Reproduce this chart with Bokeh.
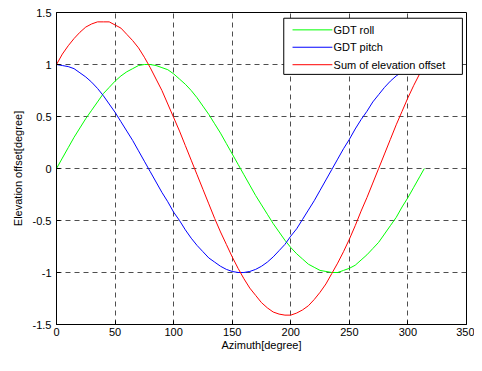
from bokeh.plotting import figure
from bokeh.embed import file_html
from bokeh.resources import INLINE
from bokeh.models import FixedTicker, Range1d
from bokeh.core.properties import value

azimuth = [0, 5, 10, 15, 20, 25, 30, 35, 40, 45, 50, 55, 60, 65, 70, 75, 80, 85, 90, 95,
           100, 105, 110, 115, 120, 125, 130, 135, 140, 145, 150, 155, 160, 165, 170, 175,
           180, 185, 190, 195, 200, 205, 210, 215, 220, 225, 230, 235, 240, 245, 250, 255,
           260, 265, 270, 275, 280, 285, 290, 295, 300, 305, 310, 314]
gdt_roll = [0.00, 0.10, 0.20, 0.30, 0.39, 0.48, 0.56, 0.64, 0.72, 0.78, 0.84, 0.89, 0.93,
            0.96, 0.99, 1.00, 1.00, 0.99, 0.97, 0.95, 0.91, 0.86, 0.81, 0.75, 0.68, 0.60,
            0.52, 0.43, 0.34, 0.24, 0.14, 0.04, -0.06, -0.16, -0.26, -0.35, -0.44, -0.53,
            -0.61, -0.69, -0.76, -0.82, -0.87, -0.92, -0.95, -0.98, -0.99, -1.00, -1.00,
            -0.98, -0.96, -0.93, -0.88, -0.83, -0.77, -0.71, -0.63, -0.55, -0.47, -0.37,
            -0.28, -0.18, -0.08, 0.00]
gdt_pitch = [1.00, 0.99, 0.98, 0.96, 0.92, 0.88, 0.83, 0.77, 0.70, 0.62, 0.54, 0.45, 0.36,
             0.27, 0.17, 0.07, -0.03, -0.13, -0.23, -0.32, -0.42, -0.50, -0.59, -0.67, -0.74,
             -0.80, -0.86, -0.90, -0.94, -0.97, -0.99, -1.00, -1.00, -0.99, -0.97, -0.94,
             -0.90, -0.85, -0.79, -0.73, -0.65, -0.58, -0.49, -0.40, -0.31, -0.21, -0.11,
             -0.01, 0.09, 0.19, 0.28, 0.38, 0.47, 0.55, 0.64, 0.71, 0.78, 0.84, 0.89, 0.93,
             0.96, 0.98, 1.00, 1.00]
sum_offset = [1.00, 1.10, 1.18, 1.25, 1.31, 1.36, 1.39, 1.41, 1.41, 1.41, 1.38, 1.35, 1.29,
              1.23, 1.16, 1.07, 0.97, 0.86, 0.75, 0.62, 0.49, 0.36, 0.22, 0.08, -0.06, -0.20,
              -0.34, -0.48, -0.61, -0.73, -0.85, -0.96, -1.06, -1.15, -1.22, -1.29, -1.34,
              -1.38, -1.40, -1.41, -1.41, -1.39, -1.36, -1.32, -1.26, -1.19, -1.11, -1.01,
              -0.91, -0.80, -0.68, -0.55, -0.41, -0.28, -0.14, 0.00, 0.14, 0.28, 0.42, 0.55,
              0.68, 0.80, 0.91, 1.00]
x_ticks = [0, 50, 100, 150, 200, 250, 300, 350]
y_ticks = [-1.5, -1, -0.5, 0, 0.5, 1, 1.5]
series_names = ["GDT roll", "GDT pitch", "Sum of elevation offset"]
series_colors = ["#00ff00", "#0000ff", "#ff0000"]

# legend placement (in axis units, top-right corner of the axes)
LEG_LEFT, LEG_RIGHT, LEG_BOTTOM, LEG_TOP = 194, 346.5, 0.905, 1.445
LEG_ROWS = [1.333, 1.166, 0.998]
LEG_LINE_X0, LEG_LINE_X1, LEG_TEXT_X = 201.5, 235.5, 236.5

FONT = "Liberation Sans"

p = figure(width=474, height=355, output_backend="svg", toolbar_location=None,
           x_range=Range1d(0, 350), y_range=Range1d(-1.5, 1.5),
           min_border_left=56, min_border_right=8, min_border_top=12, min_border_bottom=31)
p.background_fill_color = "white"
p.border_fill_color = "white"
p.outline_line_color = "black"
p.outline_line_width = 1

for ax in (p.xaxis[0], p.yaxis[0]):
    ax.major_label_text_font = FONT
    ax.major_label_text_font_size = "11px"
    ax.major_label_text_color = "black"
    ax.axis_label_text_font = FONT
    ax.axis_label_text_font_size = "11px"
    ax.axis_label_text_font_style = "normal"
    ax.axis_label_text_color = "black"
    ax.axis_line_color = "black"
    ax.major_tick_in = 4
    ax.major_tick_out = 0
    ax.minor_tick_line_color = None
    ax.major_tick_line_color = "black"

p.xaxis.ticker = FixedTicker(ticks=x_ticks)
p.yaxis.ticker = FixedTicker(ticks=y_ticks)
p.yaxis.major_label_overrides = {-1.5: "-1.5", -1: "-1", -0.5: "-0.5", 0: "0", 0.5: "0.5", 1: "1", 1.5: "1.5"}
p.xaxis.axis_label = "Azimuth[degree]"
p.yaxis.axis_label = "Elevation offset[degree]"
p.xaxis.major_label_standoff = 3
p.xaxis.axis_label_standoff = 0
p.yaxis.major_label_standoff = 5
p.yaxis.axis_label_standoff = 6

p.grid.grid_line_color = "#222222"
p.grid.grid_line_dash = "5 4"
p.grid.grid_line_width = 1
p.grid.grid_line_alpha = 0.8

for ys, c in zip([gdt_roll, gdt_pitch, sum_offset], series_colors):
    p.line(azimuth, ys, line_color=c, line_width=1)

# legend box drawn on top of the curves
p.quad(left=[LEG_LEFT], right=[LEG_RIGHT], bottom=[LEG_BOTTOM], top=[LEG_TOP],
       fill_color="white", line_color="black", line_width=1)
p.segment(x0=[LEG_LINE_X0] * 3, x1=[LEG_LINE_X1] * 3, y0=LEG_ROWS, y1=LEG_ROWS,
          line_color=series_colors, line_width=1)
p.text(x=[LEG_TEXT_X] * 3, y=LEG_ROWS, text=series_names, text_font=value(FONT),
       text_font_size="11px", text_color="black", text_baseline="middle", text_align="left")

open("out.html", "w").write(file_html(p, INLINE))
